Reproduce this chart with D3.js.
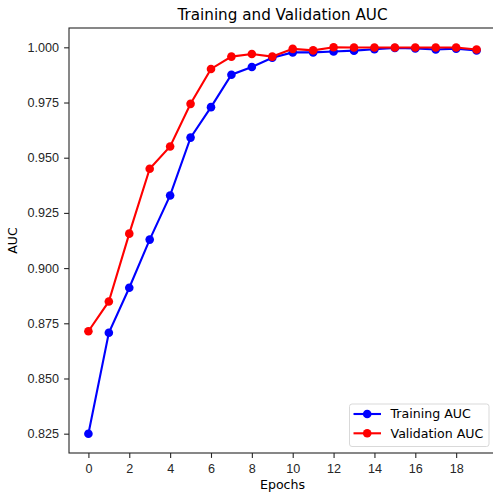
<!DOCTYPE html>
<html>
<head>
<meta charset="utf-8">
<script src="https://cdn.jsdelivr.net/npm/d3@7"></script>
<style>
  body { margin: 0; background: #fff; }
  svg { font-family: "DejaVu Sans", sans-serif; }
  .axis text { font-size: 12.6px; fill: #262626; }
  .axis path, .axis line { stroke: #262626; stroke-width: 1.1; }
</style>
</head>
<body>
<div id="chart"></div>
<script>
// Epochs and AUC per epoch
const epochs = d3.range(0, 20);
const trainAuc = [0.8250, 0.8707, 0.8911, 0.9129, 0.9329, 0.9591, 0.9729, 0.9876, 0.9911, 0.9953,
                  0.9977, 0.9977, 0.9981, 0.9985, 0.9991, 0.9997, 0.9995, 0.9990, 0.9994, 0.9986];
const valAuc = [0.8714, 0.8849, 0.9156, 0.9450, 0.9551, 0.9744, 0.9902, 0.9958, 0.9970, 0.9958,
                0.9993, 0.9986, 1.0000, 0.9999, 0.9999, 0.9999, 0.9999, 0.9999, 0.9999, 0.9990];
const xTicks = [0, 2, 4, 6, 8, 10, 12, 14, 16, 18];
const yTicks = [0.825, 0.850, 0.875, 0.900, 0.925, 0.950, 0.975, 1.000];

const series = [
    { name: "Training AUC", color: "#0000ff", values: trainAuc },
    { name: "Validation AUC", color: "#ff0000", values: valAuc }
];

const W = 493, H = 495;
const margin = { top: 28, right: -3, bottom: 42, left: 69 },
    width = W - margin.left - margin.right,
    height = H - margin.top - margin.bottom;

const svg = d3.select("#chart")
    .append("svg")
    .attr("width", W)
    .attr("height", H);

const g = svg.append("g")
    .attr("transform", "translate(" + margin.left + "," + margin.top + ")");

// matplotlib-like 5% padding around the data
const xMin = 0, xMax = 19;
const xPad = (xMax - xMin) * 0.05;
const yMin = d3.min([...trainAuc, ...valAuc]), yMax = d3.max([...trainAuc, ...valAuc]);
const yPad = (yMax - yMin) * 0.05;

const x = d3.scaleLinear()
    .domain([xMin - xPad, xMax + xPad])
    .range([0, width]);

const y = d3.scaleLinear()
    .domain([yMin - yPad, yMax + yPad])
    .range([height, 0]);

// Axes
g.append("g")
    .attr("class", "axis")
    .attr("transform", "translate(0," + height + ")")
    .call(d3.axisBottom(x).tickValues(xTicks).tickSize(4.9).tickPadding(5.8).tickFormat(d3.format("d")))
    .call(a => a.select(".domain").remove());

g.append("g")
    .attr("class", "axis")
    .call(d3.axisLeft(y).tickValues(yTicks).tickSize(4.9).tickPadding(5.2).tickFormat(d3.format(".3f")))
    .call(a => a.select(".domain").remove());

// Spines (right one falls outside the picture)
g.append("rect")
    .attr("width", width)
    .attr("height", height)
    .attr("fill", "none")
    .attr("stroke", "#262626")
    .attr("stroke-width", 1.1);

// Lines and markers
const line = d3.line()
    .x((d, i) => x(epochs[i]))
    .y(d => y(d));

series.forEach(s => {
    g.append("path")
        .datum(s.values)
        .attr("d", line)
        .attr("fill", "none")
        .attr("stroke", s.color)
        .attr("stroke-width", 2.1);

    g.selectAll(null)
        .data(s.values)
        .enter()
        .append("circle")
        .attr("cx", (d, i) => x(epochs[i]))
        .attr("cy", d => y(d))
        .attr("r", 4.3)
        .attr("fill", s.color);
});

// Title and axis labels
svg.append("text")
    .attr("x", margin.left + width / 2)
    .attr("y", 19.5)
    .attr("text-anchor", "middle")
    .style("font-size", "15.2px")
    .style("fill", "#000")
    .text("Training and Validation AUC");

svg.append("text")
    .attr("x", margin.left + width / 2)
    .attr("y", 488.5)
    .attr("text-anchor", "middle")
    .style("font-size", "12.6px")
    .style("fill", "#000")
    .text("Epochs");

svg.append("text")
    .attr("transform", "rotate(-90)")
    .attr("x", -(margin.top + height / 2))
    .attr("y", 17)
    .attr("text-anchor", "middle")
    .style("font-size", "12.6px")
    .style("fill", "#000")
    .text("AUC");

// Legend
const legend = svg.append("g")
    .attr("transform", "translate(349.5,404)");

legend.append("rect")
    .attr("width", 139.5)
    .attr("height", 42.5)
    .attr("rx", 2.5)
    .attr("fill", "#fff")
    .attr("fill-opacity", 0.8)
    .attr("stroke", "#d9d9d9")
    .attr("stroke-width", 1);

const rows = legend.selectAll(".row")
    .data(series)
    .enter()
    .append("g")
    .attr("transform", (d, i) => "translate(0," + (10 + i * 19.3) + ")");

rows.append("line")
    .attr("x1", 4).attr("x2", 31.5)
    .attr("stroke", d => d.color)
    .attr("stroke-width", 2.1);

rows.append("circle")
    .attr("cx", 17.7)
    .attr("r", 4.3)
    .attr("fill", d => d.color);

rows.append("text")
    .attr("x", 41)
    .attr("dy", "0.35em")
    .style("font-size", "12.6px")
    .style("fill", "#000")
    .text(d => d.name);
</script>
</body>
</html>
